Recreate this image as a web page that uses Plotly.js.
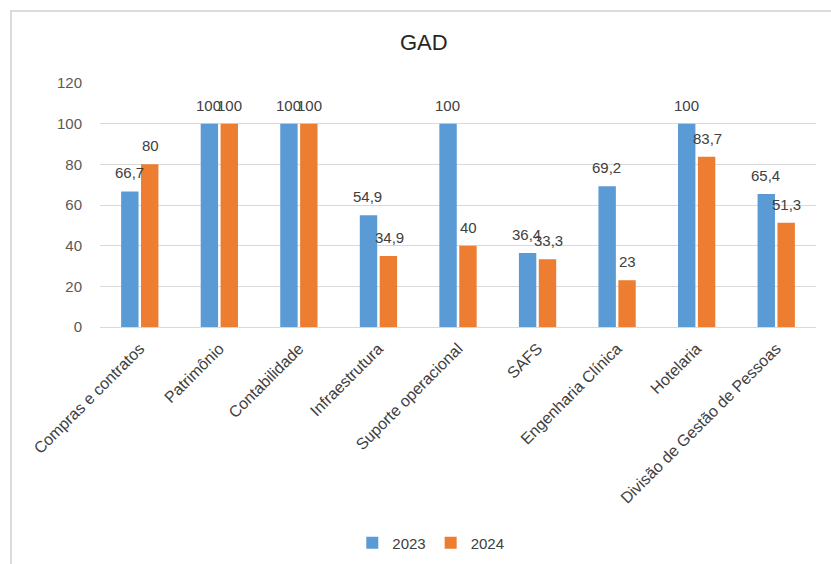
<!DOCTYPE html>
<html>
<head>
<meta charset="utf-8">
<script src="https://cdn.plot.ly/plotly-3.0.1.min.js"></script>
<style>
  html, body { margin: 0; padding: 0; background: #ffffff; }
  #frame { position: absolute; left: 10px; top: 10px; width: 840px; height: 580px;
           border-left: 2px solid #dcdcdc; border-top: 2px solid #dcdcdc; box-sizing: border-box; }
  #chart { position: absolute; left: 0; top: 0; width: 831px; height: 564px; }
</style>
</head>
<body>
<div id="frame"></div>
<div id="chart"></div>
<script>
const categories = ["Compras e contratos", "Patrimônio", "Contabilidade", "Infraestrutura",
  "Suporte operacional", "SAFS", "Engenharia Clínica", "Hotelaria", "Divisão de Gestão de Pessoas"];
const values2023 = [66.7, 100, 100, 54.9, 100, 36.4, 69.2, 100, 65.4];
const values2024 = [80, 100, 100, 34.9, 40, 33.3, 23, 83.7, 51.3];
const seriesNames = ["2023", "2024"];
const yTicks = [0, 20, 40, 60, 80, 100, 120];

const fmt = v => String(v).replace('.', ',');
const FONT = "Liberation Sans, Arial, sans-serif";

function series(name, vals, color) {
  return {
    type: 'bar', name: name, x: categories, y: vals,
    marker: { color: color },
    hoverinfo: 'x+y'
  };
}

const data = [
  series(seriesNames[0], values2023, '#5b9bd5'),
  series(seriesNames[1], values2024, '#ed7d31')
];

// value labels placed at each bar's top via the axes (shift = half the group slot)
function labels(vals, shift) {
  return vals.map((v, i) => ({
    x: categories[i], y: v, xref: 'x', yref: 'y', text: fmt(v), showarrow: false,
    xanchor: 'center', yanchor: 'bottom', xshift: shift, yshift: 8,
    font: { family: FONT, size: 15, color: '#404040' }
  }));
}

const layout = {
  width: 831, height: 564,
  paper_bgcolor: 'rgba(0,0,0,0)', plot_bgcolor: 'rgba(0,0,0,0)',
  margin: { l: 100, r: 15, t: 83, b: 237, autoexpand: false },
  title: { text: 'GAD', x: 0.51, xanchor: 'center', y: 0.925, yanchor: 'middle',
           font: { family: FONT, size: 22, color: '#262626' } },
  barmode: 'group', bargap: 0.5, bargroupgap: 0.125,
  font: { family: FONT, size: 14, color: '#595959' },
  xaxis: { type: 'category', tickangle: -45, showgrid: false, showline: true, automargin: false,
           linecolor: '#d9d9d9', linewidth: 1, ticks: 'outside', ticklen: 5, tickcolor: 'rgba(0,0,0,0)',
           tickfont: { family: FONT, size: 16, color: '#404040' } },
  yaxis: { range: [0, 120], tickvals: yTicks, ticktext: yTicks.map(String), automargin: false,
           showgrid: true, gridcolor: '#d9d9d9', gridwidth: 1, zeroline: false,
           ticks: 'outside', ticklen: 14, tickcolor: 'rgba(0,0,0,0)',
           tickfont: { family: FONT, size: 15, color: '#595959' } },
  annotations: labels(values2023, -10.6).concat(labels(values2024, 10.6)),
  showlegend: true,
  legend: { orientation: 'h', x: 0.462, xanchor: 'center', y: -0.885, yanchor: 'middle',
            font: { family: FONT, size: 15, color: '#404040' },
            itemwidth: 30, traceorder: 'normal' }
};

Plotly.newPlot('chart', data, layout, { displayModeBar: false, staticPlot: true });
</script>
</body>
</html>
